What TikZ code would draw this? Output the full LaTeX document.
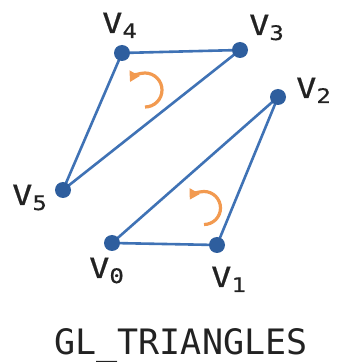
\documentclass[tikz,border=0pt]{standalone}
\usepackage{fontspec}
\setmonofont{DejaVu Sans Mono}
\newfontfamily\labfont[FakeStretch=1.2,FakeBold=0.6]{DejaVu Sans Mono}
\usetikzlibrary{arrows.meta}
\definecolor{edgeblue}{HTML}{3F72B5}
\definecolor{dotblue}{HTML}{2E5E9E}
\definecolor{turnorange}{HTML}{F29A50}
\definecolor{txt}{HTML}{222222}
\tikzset{
  vdot/.style={circle, fill=dotblue, inner sep=0pt, minimum size=16pt},
  edge/.style={draw=edgeblue, line width=2.6pt},
  turn/.style={draw=turnorange, line width=3.2pt, -{Triangle[length=10pt,width=11pt]}},
  vlabel/.style={anchor=base west, inner sep=0pt, text=txt, font=\labfont\fontsize{28}{28}\selectfont},
  title/.style={anchor=base, inner sep=0pt, text=txt, font=\ttfamily\fontsize{35}{35}\selectfont}
}
\newcommand{\vsub}[1]{V\raisebox{-5pt}{\fontsize{20}{20}\selectfont #1}}
\begin{document}
\begin{tikzpicture}[x=1pt,y=1pt]
\useasboundingbox (0,0) rectangle (339,362);
\fill[white] (0,0) rectangle (339,362);
% vertices
\coordinate (p0) at (112,119);
\coordinate (p1) at (217,117);
\coordinate (p2) at (278,265);
\coordinate (p3) at (240,312);
\coordinate (p4) at (122,309);
\coordinate (p5) at (63,172);
% edges
\draw[edge] (p0) -- (p1) -- (p2) -- cycle;
\draw[edge] (p3) -- (p4) -- (p5) -- cycle;
% dots
\node[vdot] (v0) at (p0) {};
\node[vdot] (v1) at (p1) {};
\node[vdot] (v2) at (p2) {};
\node[vdot] (v3) at (p3) {};
\node[vdot] (v4) at (p4) {};
\node[vdot] (v5) at (p5) {};
% labels
\node[vlabel] (l4) at (102,329) {\vsub{4}};
\node[vlabel] (l3) at (249,327) {\vsub{3}};
\node[vlabel] (l2) at (296,264) {\vsub{2}};
\node[vlabel] (l5) at (12,157) {\vsub{5}};
\node[vlabel] (l0) at (89,84) {\vsub{0}};
\node[vlabel] (l1) at (211,75) {\vsub{1}};
% winding arrows
\coordinate (c1) at (145,272);
\coordinate (c2) at (204,154);
\draw[turn] ([shift={(-90:17)}]c1) arc[start angle=-90, end angle=152, radius=17];
\draw[turn] ([shift={(-90:16.5)}]c2) arc[start angle=-90, end angle=150, radius=16.5];
% title
\node[title] (t) at (181,7) {GL\_TRIANGLES};
\end{tikzpicture}
\end{document}
